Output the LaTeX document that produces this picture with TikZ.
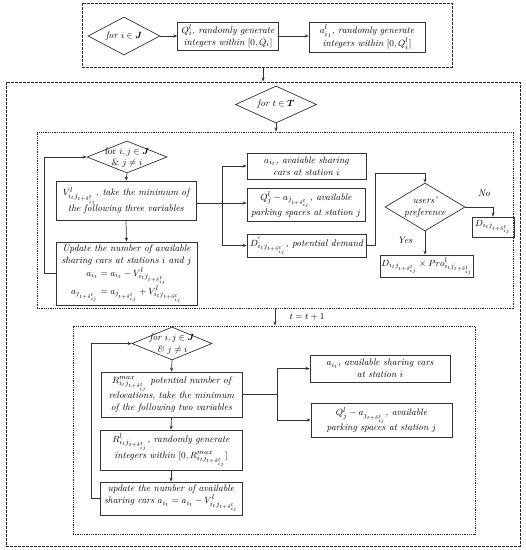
\documentclass[tikz,border=0pt]{standalone}
\usepackage{amsmath,bm}
\usetikzlibrary{shapes.geometric,arrows.meta}
\newcommand{\myij}{i_tj_{t+\delta^t_{ij}}}
\newcommand{\myjd}{j_{t+\delta^t_{ij}}}
\newcommand{\myfs}{\fontsize{9.5}{12}\selectfont\itshape}
\begin{document}
\begin{tikzpicture}[x=1pt,y=-1pt,
  ln/.style={draw=black!80, line width=0.7pt},
  box/.style={ln, rectangle, inner sep=1pt, align=center, font=\myfs},
  dia/.style={ln, diamond, inner sep=0pt},
  txt/.style={align=center, font=\myfs, inner sep=0pt},
  arr/.style={ln, -{Stealth[length=4pt,width=3.2pt]}},
  outerbox/.style={draw=black!85, dash pattern=on 2.6pt off 1.4pt, line width=1pt, rectangle, inner sep=0pt},
  innerbox/.style={draw=black!85, dash pattern=on 0.9pt off 0.9pt, line width=0.9pt, rectangle, inner sep=0pt}
]
\useasboundingbox (0,0) rectangle (526,550);

% containers
\node[outerbox, minimum width=370, minimum height=64] (top) at (267,35) {};
\node[outerbox, minimum width=514, minimum height=464] (big) at (263,314) {};
\node[innerbox, minimum width=476, minimum height=176] (mid) at (275,220) {};
\node[innerbox, minimum width=402, minimum height=208] (bot) at (274,430) {};

% top part
\node[dia, minimum width=72, minimum height=38] (d0) at (124,36) {};
\node[txt] (d0t) at (d0) {for $i\in\boldsymbol{J}$};
\node[box, minimum width=101, minimum height=28] (q0) at (228,36) {$Q_i^l$, randomly generate\\ integers within $[0,Q_i]$};
\node[box, minimum width=116, minimum height=30] (a0) at (367,37) {$a^l_{i_1}$, randomly generate\\ integers within $[0,Q_i^l]$};
\draw[arr] (d0.east) -- (q0.west);
\draw[arr] (q0.east) -- (a0.west |- q0.east);
\draw[arr] (top.south -| big.north) -- (big.north);

% for t
\node[dia, minimum width=81, minimum height=37] (dt) at (276,104.5) {};
\node[txt] (dtt) at (dt) {for $t\in\boldsymbol{T}$};
\draw[arr] (dt.south) -- (dt.south |- mid.north);

% middle part
\node[dia, minimum width=80, minimum height=32] (d1) at (127,157) {};
\node[txt, font=\fontsize{9.5}{11}\selectfont] (d1t) at (127,158) {for $i,j\in\boldsymbol{J}$\\ \& $j\neq i$};
\node[box, minimum width=140, minimum height=39] (v1) at (126,200.5) {$V^l_{\myij}$, take the minimum of\\ the following three variables};
\node[box, minimum width=141, minimum height=63, font=\fontsize{9.5}{12.5}\selectfont\itshape] (u1) at (126.5,273.5) {Update the number of available\\ sharing cars at stations $i$ and $j$\\ $a_{i_t}=a_{i_t}-V^l_{\myij}$\\ $a_{\myjd}=a_{\myjd}+V^l_{\myij}$};
\draw[arr] (d1.south) -- (v1.north);
\draw[arr] (v1.south) -- (u1.north);
\draw[arr] (u1.west) -- ++(-11,0) |- (d1.west);

\node[box, minimum width=119, minimum height=26] (a1) at (306.5,166) {$a_{i_t}$, avaiable sharing\\ cars at station $i$};
\node[box, minimum width=118, minimum height=33] (qa1) at (306,204.5) {$Q^l_j-a_{\myjd}$, available\\ parking spaces at station $j$};
\node[box, minimum width=119, minimum height=23] (dp1) at (306.5,245.5) {$D^{'}_{\myij}$, potential demand};
\coordinate (br1) at (222,203);
\draw[ln] (v1.east |- br1) -- (br1);
\draw[arr] (br1) |- (a1.west);
\draw[arr] (br1) -- (br1 -| qa1.west);
\draw[arr] (br1) |- (dp1.west);

\node[dia, minimum width=80, minimum height=48] (up) at (425,207) {};
\node[txt] (upt) at (up) {users'\\ preference};
\coordinate (c1) at (375,173);
\draw[arr] (dp1.east) -| (c1) -| (up.north);
\node[box, minimum width=42, minimum height=20] (dn) at (493,227) {$D_{\myij}$};
\node[box, minimum width=90, minimum height=22] (dy) at (427,266) {$D_{\myij}\times Pro^l_{\myij}$};
\draw[arr] (up.east) -| (dn.north);
\draw[arr] (up.south) -- (up.south |- dy.north);
\node[txt] (no) at (484,193) {No};
\node[txt] (yes) at (405,240) {Yes};

% t = t+1
\draw[arr] (mid.south) -- (mid.south |- bot.north);
\node[txt] (tt) at (307,317) {$t=t+1$};

% bottom part
\node[dia, minimum width=80, minimum height=33] (d2) at (172,343.5) {};
\node[txt] (d2t) at (172,344.5) {for $i,j\in\boldsymbol{J}$\\ \& $j\neq i$};
\node[box, minimum width=141, minimum height=45] (r1) at (171.5,394.5) {$R^{max}_{\myij}$ potential number of\\ relocations, take the minimum\\ of the following two variables};
\node[box, minimum width=142, minimum height=40] (r2) at (171,450) {$R^l_{\myij}$, randomly generate\\ integers within $[0,R^{max}_{\myij}]$};
\node[box, minimum width=142, minimum height=33] (u2) at (171,498.5) {update the number of available\\ sharing cars $a_{i_t}=a_{i_t}-V^l_{\myij}$};
\draw[arr] (d2.south) -- (r1.north);
\draw[arr] (r1.south) -- (r2.north);
\draw[arr] (r2.south) -- (u2.north);
\draw[arr] (u2.west) -- ++(-8,0) |- (d2.west);

\node[box, minimum width=140, minimum height=27] (a2) at (380,368.5) {$a_{i_t}$, available sharing cars\\ at station $i$};
\node[box, minimum width=141, minimum height=34] (q2) at (381.5,420) {$Q^l_j-a_{\myjd}$, available\\ parking spaces at station $j$};
\coordinate (br2) at (277,394.5);
\draw[ln] (r1.east) -- (br2);
\draw[arr] (br2) |- (a2.west);
\draw[arr] (br2) |- (q2.west);
\end{tikzpicture}
\end{document}
